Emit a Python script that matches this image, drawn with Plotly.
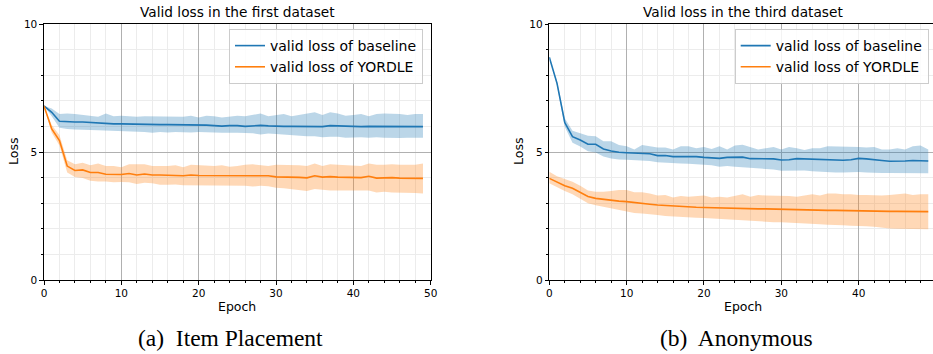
import plotly.graph_objects as go

epochs = list(range(50))

# Left panel: first dataset
base1_mean = [6.80,6.55,6.20,6.18,6.17,6.17,6.15,6.12,6.12,6.10,6.10,6.09,6.09,6.08,6.07,6.07,6.07,6.07,6.05,6.07,
              6.05,6.05,6.03,6.01,6.03,6.03,6.00,6.02,6.04,6.02,6.00,6.00,6.00,6.00,5.99,5.99,5.99,6.03,6.02,6.00,
              5.99,5.99,6.00,6.00,6.00,5.99,5.98,5.98,5.98,5.99]
base1_upper = [6.80,6.70,6.48,6.50,6.48,6.45,6.40,6.38,6.50,6.40,6.42,6.40,6.38,6.40,6.40,6.38,6.40,6.40,6.38,6.42,
               6.35,6.42,6.40,6.35,6.38,6.42,6.40,6.45,6.50,6.40,6.45,6.48,6.40,6.45,6.52,6.55,6.45,6.55,6.50,6.42,
               6.45,6.48,6.40,6.48,6.50,6.50,6.48,6.45,6.48,6.48]
base1_lower = [6.80,6.40,5.95,5.90,5.88,5.86,5.86,5.85,5.84,5.82,5.82,5.82,5.80,5.78,5.75,5.78,5.76,5.78,5.77,5.76,
               5.78,5.76,5.76,5.75,5.76,5.75,5.74,5.73,5.68,5.72,5.70,5.68,5.65,5.62,5.62,5.62,5.58,5.60,5.60,5.56,
               5.58,5.58,5.56,5.58,5.56,5.55,5.55,5.56,5.56,5.56]
yord1_mean = [6.80,5.90,5.45,4.45,4.28,4.30,4.20,4.20,4.13,4.13,4.12,4.16,4.10,4.14,4.10,4.10,4.10,4.08,4.07,4.10,
              4.08,4.08,4.08,4.07,4.07,4.07,4.07,4.09,4.09,4.07,4.03,4.03,4.03,4.01,3.99,4.07,4.02,4.04,4.02,4.02,
              4.01,4.00,4.05,3.98,3.99,4.00,3.98,3.98,3.98,3.97]
yord1_upper = [6.80,6.05,5.65,4.68,4.52,4.58,4.48,4.55,4.45,4.45,4.40,4.52,4.52,4.52,4.45,4.45,4.45,4.48,4.40,4.50,
               4.48,4.45,4.45,4.48,4.42,4.45,4.50,4.52,4.48,4.45,4.50,4.50,4.50,4.48,4.45,4.55,4.45,4.52,4.50,4.48,
               4.48,4.45,4.55,4.50,4.50,4.52,4.50,4.50,4.50,4.55]
yord1_lower = [6.80,5.75,5.25,4.20,4.02,3.98,3.88,3.85,3.85,3.82,3.83,3.82,3.75,3.80,3.78,3.72,3.72,3.73,3.70,3.70,
               3.70,3.70,3.68,3.70,3.68,3.68,3.68,3.65,3.68,3.66,3.60,3.58,3.55,3.52,3.48,3.55,3.52,3.50,3.50,3.50,
               3.48,3.48,3.50,3.42,3.45,3.42,3.42,3.40,3.40,3.38]

# Right panel: third dataset
base3_mean = [8.70,7.68,6.15,5.60,5.47,5.30,5.30,5.12,5.04,4.99,4.97,4.96,4.93,4.93,4.86,4.86,4.82,4.82,4.83,4.82,
              4.79,4.78,4.75,4.79,4.80,4.80,4.74,4.73,4.74,4.73,4.69,4.70,4.74,4.73,4.70,4.70,4.69,4.68,4.68,4.70,
              4.75,4.73,4.69,4.67,4.64,4.64,4.65,4.67,4.66,4.65]
base3_upper = [8.70,7.75,6.32,5.83,5.73,5.63,5.62,5.42,5.42,5.27,5.22,5.10,5.27,5.22,5.18,5.18,5.10,5.22,5.22,5.15,
               5.20,5.12,5.22,5.10,5.25,5.28,5.18,5.10,5.15,5.20,5.10,5.20,5.15,5.08,5.15,5.15,5.22,5.22,5.22,5.20,
               5.20,5.18,5.20,5.10,5.10,5.15,5.10,5.22,5.25,5.10]
base3_lower = [8.70,7.60,5.99,5.36,5.21,5.03,4.98,4.82,4.75,4.71,4.70,4.68,4.65,4.65,4.60,4.58,4.55,4.55,4.54,4.52,
               4.49,4.48,4.42,4.45,4.42,4.40,4.38,4.35,4.35,4.32,4.27,4.28,4.28,4.28,4.25,4.23,4.22,4.20,4.20,4.22,
               4.22,4.20,4.18,4.18,4.18,4.18,4.18,4.17,4.16,4.17]
yord3_mean = [3.97,3.82,3.68,3.58,3.42,3.26,3.19,3.15,3.12,3.08,3.06,3.02,2.98,2.96,2.93,2.91,2.88,2.86,2.85,2.84,
              2.83,2.82,2.81,2.80,2.80,2.79,2.79,2.78,2.78,2.77,2.76,2.75,2.75,2.74,2.73,2.72,2.72,2.72,2.71,2.70,
              2.70,2.70,2.69,2.69,2.68,2.68,2.68,2.68,2.67,2.67]
yord3_upper = [4.23,4.05,3.95,3.84,3.68,3.50,3.45,3.45,3.48,3.52,3.52,3.43,3.43,3.38,3.30,3.32,3.22,3.28,3.25,3.28,
               3.30,3.22,3.25,3.22,3.30,3.35,3.25,3.32,3.30,3.30,3.30,3.28,3.25,3.30,3.35,3.30,3.38,3.38,3.35,3.35,
               3.32,3.32,3.30,3.30,3.32,3.35,3.38,3.32,3.35,3.35]
yord3_lower = [3.78,3.62,3.48,3.35,3.18,3.00,2.92,2.86,2.80,2.72,2.68,2.62,2.60,2.58,2.54,2.50,2.48,2.45,2.45,2.43,
               2.42,2.40,2.38,2.36,2.34,2.34,2.32,2.30,2.28,2.26,2.26,2.25,2.24,2.22,2.20,2.18,2.16,2.16,2.14,2.12,
               2.12,2.10,2.08,2.04,2.01,2.00,2.00,2.00,1.98,1.98]

titles = ["Valid loss in the first dataset", "Valid loss in the third dataset"]
captions = ["(a)  Item Placement", "(b)  Anonymous"]
series_names = ["valid loss of baseline", "valid loss of YORDLE"]
y_ticks = [0, 5, 10]
x_ticks = [0, 10, 20, 30, 40, 50]

BLUE = "#1f77b4"
ORANGE = "#ff7f0e"
BLUE_F = "rgba(31,119,180,0.3)"
ORANGE_F = "rgba(255,127,14,0.3)"
FONT = "DejaVu Sans"

fig = go.Figure()

panels = [
    (base1_mean, base1_upper, base1_lower, yord1_mean, yord1_upper, yord1_lower, "x", "y", "legend"),
    (base3_mean, base3_upper, base3_lower, yord3_mean, yord3_upper, yord3_lower, "x2", "y2", "legend2"),
]

for bm, bu, bl, om, ou, ol, xa, ya, lg in panels:
    for m, u, l, col, fcol, name in [(bm, bu, bl, BLUE, BLUE_F, series_names[0]),
                                     (om, ou, ol, ORANGE, ORANGE_F, series_names[1])]:
        fig.add_trace(go.Scatter(x=epochs, y=u, mode="lines", line=dict(width=0), showlegend=False,
                                 hoverinfo="skip", xaxis=xa, yaxis=ya))
        fig.add_trace(go.Scatter(x=epochs, y=l, mode="lines", line=dict(width=0), fill="tonexty",
                                 fillcolor=fcol, showlegend=False, hoverinfo="skip", xaxis=xa, yaxis=ya))
        fig.add_trace(go.Scatter(x=epochs, y=m, mode="lines", line=dict(color=col, width=1.6),
                                 name=name, xaxis=xa, yaxis=ya, legend=lg))

W, H = 933, 354
def px_x(p): return p / W
def px_y(p): return (H - p) / H

xdom1 = [px_x(44), px_x(430.7)]
x0_2 = 549.3
scale = (430.7 - 44) / 50
xdom2 = [px_x(x0_2), 1.0]
xmax2 = (W - x0_2) / scale
ydom = [px_y(280), px_y(24)]

TICKSIZE = 10.5

def xaxis(dom, rng, anchor):
    return dict(domain=dom, range=rng, tickvals=x_ticks, ticks="outside", ticklen=3.5, tickwidth=1,
                tickcolor="black", showline=True, linecolor="black", linewidth=1.2, mirror=True,
                showgrid=True, gridcolor="#b0b0b0", gridwidth=1, zeroline=False, anchor=anchor,
                automargin=False,
                minor=dict(dtick=2, showgrid=True, gridcolor="#ececec", gridwidth=1, ticks="outside",
                           ticklen=2, tickcolor="black"),
                tickfont=dict(family=FONT, size=TICKSIZE, color="black"), fixedrange=True)

def yaxis(dom, anchor, mirror):
    return dict(domain=dom, range=[0, 10], tickvals=y_ticks, ticks="outside", ticklen=3.5, tickwidth=1,
                tickcolor="black", showline=True, linecolor="black", linewidth=1.2, mirror=mirror,
                showgrid=True, gridcolor="#b0b0b0", gridwidth=1, zeroline=False, anchor=anchor,
                automargin=False,
                minor=dict(dtick=1, showgrid=True, gridcolor="#ececec", gridwidth=1, ticks="outside",
                           ticklen=2, tickcolor="black"),
                tickfont=dict(family=FONT, size=TICKSIZE, color="black"), fixedrange=True)

leg_common = dict(bgcolor="rgba(255,255,255,0.85)", bordercolor="#cccccc", borderwidth=1,
                  font=dict(family=FONT, size=14, color="black"), xanchor="left", yanchor="top",
                  tracegroupgap=0, itemwidth=30, traceorder="normal")

fig.update_layout(
    width=W, height=H, margin=dict(l=0, r=0, t=0, b=0, pad=0, autoexpand=False),
    paper_bgcolor="white", plot_bgcolor="white",
    xaxis=xaxis(xdom1, [0, 50], "y"), yaxis=yaxis(ydom, "x", True),
    xaxis2=xaxis(xdom2, [0, xmax2], "y2"), yaxis2=yaxis(ydom, "x2", False),
    legend=leg_common | dict(x=px_x(229), y=px_y(29)),
    legend2=leg_common | dict(x=px_x(734.7), y=px_y(29)),
    showlegend=True,
)

centers = [(44 + 430.7) / 2, (x0_2 + x0_2 + 50 * scale) / 2]
ylab_x = [13, 518]
annots = []
for i in range(2):
    annots.append(dict(text=titles[i], x=px_x(centers[i]), y=px_y(12), xref="paper", yref="paper",
                       showarrow=False, font=dict(family=FONT, size=13.7, color="black"),
                       xanchor="center", yanchor="middle"))
    annots.append(dict(text="Epoch", x=px_x(centers[i]), y=px_y(306), xref="paper", yref="paper",
                       showarrow=False, font=dict(family=FONT, size=12.5, color="black"),
                       xanchor="center", yanchor="middle"))
    annots.append(dict(text="Loss", x=px_x(ylab_x[i]), y=px_y(152), xref="paper", yref="paper",
                       showarrow=False, textangle=-90, font=dict(family=FONT, size=12.5, color="black"),
                       xanchor="center", yanchor="middle"))
cap_x = [230.5, 736.5]
for i in range(2):
    annots.append(dict(text=captions[i], x=px_x(cap_x[i]), y=px_y(338), xref="paper", yref="paper",
                       showarrow=False, font=dict(family="Liberation Serif", size=23.5, color="black"),
                       xanchor="center", yanchor="middle"))
fig.update_layout(annotations=annots)

# remove the browser's default 8px body margin so the figure sits at the page's top-left corner
fig.write_html("out.html", config={"displayModeBar": False},
               post_script="document.body.style.margin='0';")
